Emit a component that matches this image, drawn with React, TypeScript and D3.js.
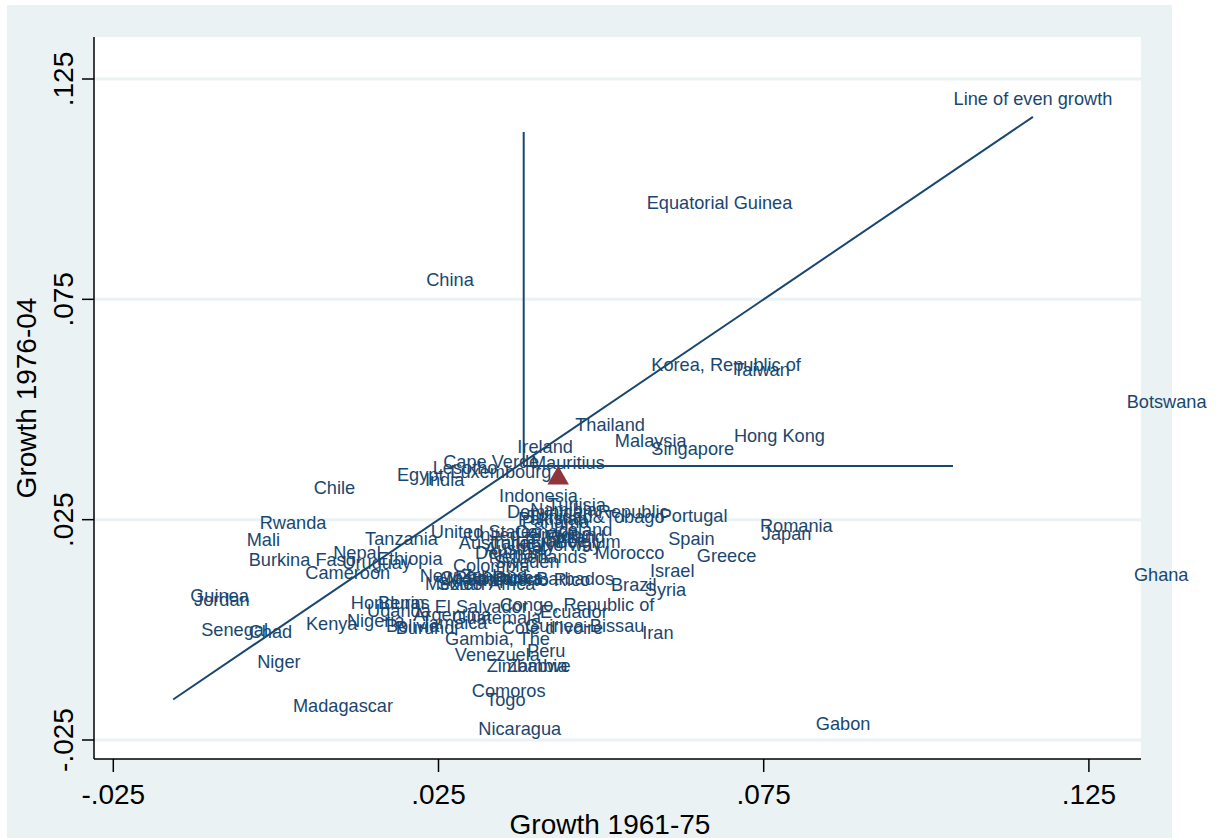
import React from "react";
import * as d3 from "d3";

// growth 1961-75 (x) vs growth 1976-04 (y), one entry per labelled country
const countries = [
  "Equatorial Guinea", "China", "Korea, Republic of", "Taiwan", "Botswana",
  "Thailand", "Malaysia", "Hong Kong", "Ireland", "Singapore",
  "Cape Verde", "Mauritius", "Lesotho", "Luxembourg", "Egypt", "India",
  "Chile", "Indonesia", "Tunisia", "Dominican Republic", "Namibia",
  "Pakistan", "Trinidad&Tobago", "Panama", "Portugal", "Romania", "Japan",
  "United States", "United Kingdom", "Canada", "Iceland", "Finland", "Spain",
  "Australia", "Turkey", "France", "Belgium", "Italy", "Austria", "Norway",
  "Morocco", "Greece", "Denmark", "Netherlands", "Sweden", "Colombia",
  "Israel", "Cameroon", "Burkina Faso", "Nepal", "Uruguay", "Ethiopia",
  "Tanzania", "Rwanda", "Mali", "Guinea", "Jordan", "Senegal", "Chad",
  "Kenya", "Niger", "Madagascar", "Nigeria", "Honduras", "Benin", "Uganda",
  "Bolivia", "Burundi", "Jamaica", "Argentina", "El Salvador", "Guatemala",
  "Congo, Republic of", "Ecuador", "Cote d'Ivoire", "Guinea-Bissau", "Iran",
  "Gambia, The", "Venezuela", "Peru", "Zimbabwe", "Zambia", "Comoros", "Togo",
  "Nicaragua", "Gabon", "Ghana", "Brazil", "Syria", "Barbados", "Puerto Rico",
  "New Zealand", "Mexico", "South Africa", "Costa Rica", "Malawi",
  "Philippines", "Sri Lanka",
];

const growth6175 = [
  0.0564, 0.0225, 0.0571, 0.0697, 0.1302,
  0.0454, 0.0515, 0.0698, 0.0365, 0.0571,
  0.0251, 0.0386, 0.0235, 0.0262, 0.018, 0.0223,
  0.0052, 0.0337, 0.0412, 0.0349, 0.0385,
  0.0366, 0.0381, 0.0372, 0.0584, 0.0738, 0.0741,
  0.0232, 0.0288, 0.0361, 0.0421, 0.0408, 0.0597,
  0.0275, 0.0323, 0.0385, 0.0423, 0.0372, 0.0315, 0.04,
  0.0484, 0.0641, 0.03, 0.0321, 0.0329, 0.0266,
  0.0569, 0.0039, -0.0048, 0.0082, 0.0096, 0.0149,
  0.0131, -0.0031, -0.0051, -0.0138, -0.0132, -0.0121, -0.0048,
  0.004, -0.0035, 0.002, 0.0103, 0.0109, 0.0151, 0.0134,
  0.0163, 0.0178, 0.0215, 0.0205, 0.0238, 0.0265,
  0.0338, 0.04, 0.0341, 0.0377, 0.0557,
  0.0254, 0.0269, 0.038, 0.0318, 0.0349, 0.0295, 0.0317,
  0.0305, 0.0824, 0.1313, 0.0509, 0.0561, 0.0394, 0.0331,
  0.0215, 0.0223, 0.0242, 0.0246, 0.0257,
  0.0269, 0.0285,
];

const growth7604 = [
  0.0969, 0.0794, 0.0601, 0.059, 0.0517,
  0.0465, 0.0428, 0.044, 0.0415, 0.041,
  0.0381, 0.0379, 0.0367, 0.0358, 0.0351, 0.034,
  0.0322, 0.0304, 0.0283, 0.0267, 0.0272,
  0.0251, 0.0256, 0.0245, 0.0258, 0.0236, 0.0217,
  0.0222, 0.0215, 0.0222, 0.0227, 0.0211, 0.0206,
  0.0197, 0.0197, 0.0202, 0.0199, 0.019, 0.0183, 0.0192,
  0.0174, 0.0168, 0.0174, 0.0165, 0.0154, 0.0145,
  0.0133, 0.0129, 0.0158, 0.0174, 0.0152, 0.0161,
  0.0206, 0.0242, 0.0204, 0.0077, 0.0068, 0.0, -0.0005,
  0.0013, -0.0073, -0.0173, 0.002, 0.0061, 0.0061, 0.0043,
  0.0009, 0.0004, 0.0015, 0.0034, 0.0052, 0.0027,
  0.0056, 0.004, 0.0004, 0.0009, -0.0007,
  -0.0021, -0.0057, -0.0048, -0.0082, -0.0082, -0.0139, -0.0159,
  -0.0225, -0.0214, 0.0124, 0.0102, 0.009, 0.0115, 0.0113,
  0.0122, 0.0104, 0.0104, 0.0118, 0.0113,
  0.0118, 0.0115,
];

const tickValues = [-0.025, 0.025, 0.075, 0.125];
const tickLabels = ["-.025", ".025", ".075", ".125"];

// line of even growth (y = x) and the mean cross, triangle = sample mean
const evenLine = [-0.0158, 0.1164];
const crossX = 0.0381;
const crossY = 0.0372;
const crossTop = 0.113;
const crossRight = 0.1041;
const meanPoint = [0.0434, 0.0344];

const W = 1217;
const H = 838;
const plot = { left: 94, right: 1141, top: 37, bottom: 759 };
const navy = "#1a476f";
const font = "'Liberation Sans', Arial, sans-serif";
const labelSize = 18.2;

export default function App() {
  const x = d3.scaleLinear().domain([-0.025, 0.125]).range([113.3, 1088.9]);
  const y = d3.scaleLinear().domain([-0.025, 0.125]).range([740, 79]);

  const tri = d3.symbol().type(d3.symbolTriangle).size(200)();

  return (
    <svg
      width={W}
      height={H}
      style={{ position: "absolute", left: 0, top: 0 }}
      fontFamily={font}
    >
      <rect x={7} y={5} width={1165} height={H} fill="#eaf2f3" />
      <rect
        x={plot.left}
        y={plot.top}
        width={plot.right - plot.left}
        height={plot.bottom - plot.top}
        fill="#fff"
      />
      {tickValues.map((t) => (
        <line
          key={"g" + t}
          x1={plot.left}
          x2={plot.right}
          y1={y(t)}
          y2={y(t)}
          stroke="#eaf2f3"
          strokeWidth={3}
        />
      ))}

      {/* axes */}
      <line x1={plot.left} x2={plot.left} y1={plot.top} y2={plot.bottom} stroke="#000" strokeWidth={1.5} />
      <line x1={plot.left} x2={plot.right} y1={plot.bottom} y2={plot.bottom} stroke="#000" strokeWidth={1.5} />
      {tickValues.map((t, i) => (
        <g key={"x" + t}>
          <line x1={x(t)} x2={x(t)} y1={plot.bottom} y2={plot.bottom + 13} stroke="#000" strokeWidth={1.5} />
          <text x={x(t)} y={804} textAnchor="middle" fontSize={28}>
            {tickLabels[i]}
          </text>
        </g>
      ))}
      {tickValues.map((t, i) => (
        <g key={"y" + t}>
          <line x1={plot.left - 12} x2={plot.left} y1={y(t)} y2={y(t)} stroke="#000" strokeWidth={1.5} />
          <text
            transform={`translate(73,${y(t)}) rotate(-90)`}
            textAnchor="middle"
            fontSize={28}
          >
            {tickLabels[i]}
          </text>
        </g>
      ))}
      <text x={610} y={834} textAnchor="middle" fontSize={28}>
        Growth 1961-75
      </text>
      <text transform="translate(36,398) rotate(-90)" textAnchor="middle" fontSize={28}>
        Growth 1976-04
      </text>

      {/* reference lines */}
      <line
        x1={x(evenLine[0])}
        y1={y(evenLine[0])}
        x2={x(evenLine[1])}
        y2={y(evenLine[1])}
        stroke={navy}
        strokeWidth={2}
      />
      <text
        x={x(evenLine[1])}
        y={y(evenLine[1]) - 18}
        textAnchor="middle"
        dominantBaseline="central"
        fontSize={labelSize}
        fill={navy}
      >
        Line of even growth
      </text>
      <line x1={x(crossX)} x2={x(crossX)} y1={y(crossY)} y2={y(crossTop)} stroke={navy} strokeWidth={2} />
      <line x1={x(crossX)} x2={x(crossRight)} y1={y(crossY)} y2={y(crossY)} stroke={navy} strokeWidth={2} />

      {/* country labels */}
      {countries.map((c, i) => (
        <text
          key={c}
          x={x(growth6175[i]) + 4}
          y={y(growth7604[i])}
          dominantBaseline="central"
          fontSize={labelSize}
          fill={navy}
        >
          {c}
        </text>
      ))}

      <path
        d={tri || ""}
        transform={`translate(${x(meanPoint[0])},${y(meanPoint[1])})`}
        fill="#90353b"
      />
    </svg>
  );
}
